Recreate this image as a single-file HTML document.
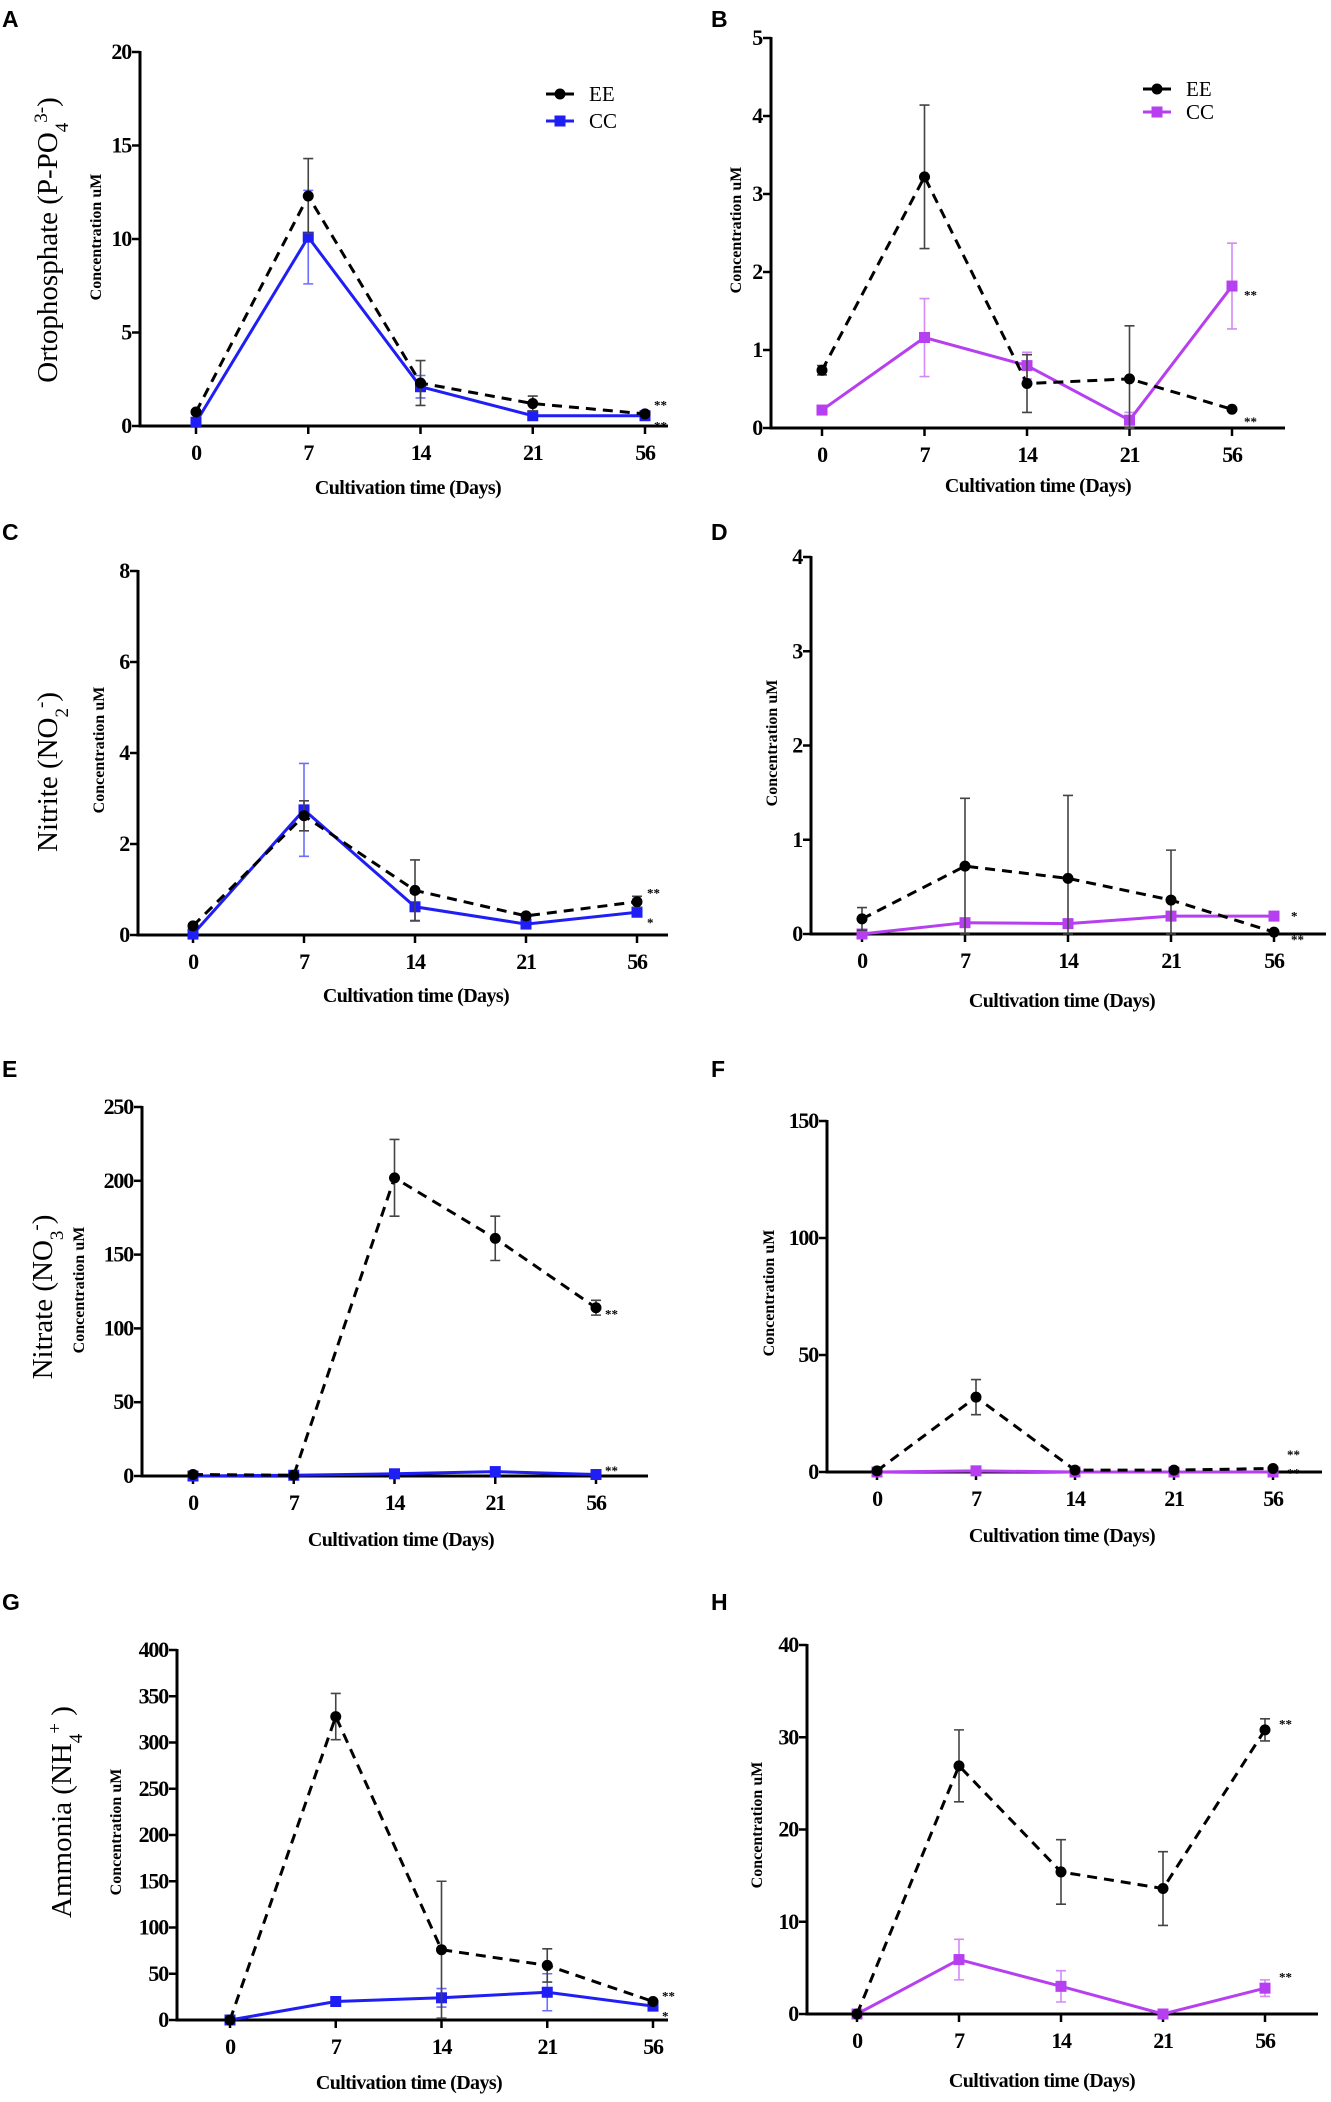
<!DOCTYPE html>
<html><head><meta charset="utf-8">
<style>
html,body{margin:0;padding:0;background:#fff;}
svg{display:block;}
text{font-family:"Liberation Serif",serif;}
.tk{font-weight:bold;font-size:22px;letter-spacing:-1.2px;}
.xt{font-weight:bold;font-size:20px;letter-spacing:-0.6px;}
.yl{font-weight:bold;font-size:16px;}
.big{font-size:29px;}
.pl{font-family:"Liberation Sans",sans-serif;font-weight:bold;font-size:23px;}
.lg{font-size:21px;}
.st{font-size:13px;font-weight:bold;}
</style></head>
<body>
<svg id="fig" width="1331" height="2102" viewBox="0 0 1331 2102">
<rect x="0" y="0" width="1331" height="2102" fill="#fff"/>
</svg>
<script>
const days=['0','7','14','21','56'];
const aTicks=[0,5,10,15,20];
const aEE=[0.75,12.3,2.3,1.2,0.65];
const aEEerr=[0.1,2.0,1.2,0.4,0.1];
const aCC=[0.2,10.1,2.1,0.55,0.55];
const aCCerr=[0.05,2.5,0.6,0.1,0.05];
const bTicks=[0,1,2,3,4,5];
const bEE=[0.74,3.22,0.57,0.63,0.24];
const bEEerr=[0.06,0.92,0.37,0.68,0.02];
const bCC=[0.23,1.16,0.8,0.1,1.82];
const bCCerr=[0.03,0.5,0.17,0.1,0.55];
const cTicks=[0,2,4,6,8];
const cEE=[0.2,2.62,0.98,0.42,0.73];
const cEEerr=[0.05,0.33,0.67,0.05,0.12];
const cCC=[0.02,2.75,0.62,0.24,0.5];
const cCCerr=[0.02,1.02,0.3,0.05,0.05];
const dTicks=[0,1,2,3,4];
const dEE=[0.16,0.72,0.59,0.36,0.02];
const dEEerr=[0.12,0.72,0.88,0.53,0.01];
const dCC=[0,0.12,0.11,0.19,0.19];
const dCCerr=[0,0.02,0.02,0.02,0.02];
const eTicks=[0,50,100,150,200,250];
const eEE=[1,0.5,202,161,114];
const eEEerr=[0.5,0.5,26,15,5];
const eCC=[0,0.5,1.5,3,1];
const eCCerr=[0,0.2,0.5,0.5,0.3];
const fTicks=[0,50,100,150];
const fEE=[0.5,32,0.8,0.8,1.5];
const fEEerr=[0.2,7.5,0.3,0.3,0.3];
const fCC=[0,0.5,0,0,0];
const fCCerr=[0,0.2,0,0,0];
const gTicks=[0,50,100,150,200,250,300,350,400];
const gEE=[0,328,76,59,20];
const gEEerr=[0,25,74,18,2];
const gCC=[0,20,24,30,15];
const gCCerr=[0,3,10,20,2];
const hTicks=[0,10,20,30,40];
const hEE=[0,26.9,15.4,13.6,30.8];
const hEEerr=[0,3.9,3.5,4,1.2];
const hCC=[0,5.9,3.0,0,2.8];
const hCCerr=[0,2.2,1.7,0.2,0.9];

const svg=document.getElementById('fig');
const NS=svg.namespaceURI;
function mk(tag,attrs,parent){const e=document.createElementNS(NS,tag);for(const k in attrs)e.setAttribute(k,attrs[k]);parent.appendChild(e);return e;}

function panel(p){
  const g=mk('g',{},svg);
  
  
  const ymax=p.ticks[p.ticks.length-1];
  const yS=v=>p.y0-(v/ymax)*(p.y0-p.yTop);
  const xS=i=>p.x0+i*p.step;
  const L=mk('text',{x:p.lx,y:p.ly,'class':'pl'},g);L.textContent=p.id;
  
  
  const ya=mk('line',{x1:p.ax,y1:p.yTop-1,x2:p.ax,y2:p.y0+1.5,stroke:'#000','stroke-width':3},g);
  
  
  const xa=mk('line',{x1:p.ax,y1:p.y0,x2:p.xEnd,y2:p.y0,stroke:'#000','stroke-width':3},g);
  
  
  p.ticks.forEach(v=>{
    const t=mk('line',{x1:p.ax-8,y1:yS(v),x2:p.ax,y2:yS(v),stroke:'#000','stroke-width':2.5},g);
    
    
    const tl=mk('text',{x:p.ax-9,y:yS(v)+7,'text-anchor':'end','class':'tk'},g);tl.textContent=v;
    
    
  });
  days.forEach((d,i)=>{
    const t=mk('line',{x1:xS(i),y1:p.y0,x2:xS(i),y2:p.y0+8,stroke:'#000','stroke-width':2.5},g);
    
    
    const tl=mk('text',{x:xS(i),y:p.y0+34,'text-anchor':'middle','class':'tk'},g);tl.textContent=d;
    
    
  });
  const xt=mk('text',{x:p.xtx,y:p.xty,'text-anchor':'middle','class':'xt'},g);xt.textContent='Cultivation time (Days)';
  
  
  const yl=mk('text',{x:0,y:0,'text-anchor':'middle','class':'yl',transform:'translate('+(p.clx+6)+','+p.cly+') rotate(-90)'},g);yl.textContent='Concentration uM';
  
  
  if(p.big){
    const b=mk('text',{x:0,y:0,'text-anchor':'middle','class':'big',transform:'translate('+(p.bx+10)+','+p.by+') rotate(-90)'},g);
    
    
    p.big.forEach(s=>{const ts=mk('tspan',s[1]?{'baseline-shift':s[1],'font-size':'19px'}:{},b);ts.textContent=s[0];});
  }
  function series(vals,errs,color,errColor,dashed,square,nm){
    errs.forEach((e,i)=>{
      if(e<=0.0)return;
      const lo=Math.max(0,vals[i]-e),hi=vals[i]+e;
      const eb=mk('path',{d:'M'+xS(i)+' '+yS(lo)+'V'+yS(hi)+'M'+(xS(i)-5)+' '+yS(hi)+'h10M'+(xS(i)-5)+' '+yS(lo)+'h10',stroke:errColor,'stroke-width':1.6,fill:'none'},g);
      
      
    });
    const pts=vals.map((v,i)=>xS(i)+','+yS(v)).join(' ');
    const ln=mk('polyline',{points:pts,fill:'none',stroke:color,'stroke-width':3,'stroke-dasharray':dashed?'10,7':'none'},g);
    
    
    vals.forEach((v,i)=>{
      let m;
      if(square)m=mk('rect',{x:xS(i)-5.5,y:yS(v)-5.5,width:11,height:11,fill:color},g);
      else m=mk('circle',{cx:xS(i),cy:yS(v),r:5.5,fill:color},g);
      
      
    });
  }
  series(p.cc,p.ccErr,p.ccColor,p.ccErrColor,false,true,'cc');
  series(p.ee,p.eeErr,'#000','#444',true,false,'ee');
  p.stars.forEach(s=>{
    const st=mk('text',{x:xS(4)+p.sdx,y:yS(s[1])+8,'class':'st'},g);st.textContent=s[0];
    
    
  });
  if(p.leg){
    [['EE','#000',false],['CC',p.ccColor,true]].forEach((e,k)=>{
      const y=p.leg[1]+k*p.leg[2];
      const l=mk('line',{x1:p.leg[0]-14,y1:y,x2:p.leg[0]+14,y2:y,stroke:e[1],'stroke-width':3},g);
      
      
      let m;
      if(e[2])m=mk('rect',{x:p.leg[0]-5.5,y:y-5.5,width:11,height:11,fill:e[1]},g);
      else m=mk('circle',{cx:p.leg[0],cy:y,r:5.5,fill:e[1]},g);
      
      
      const t=mk('text',{x:p.leg[0]+29,y:y+7,'class':'lg'},g);t.textContent=e[0];
      
      
    });
  }
}
const BLUE='#1f1ff5',BLUEe='#6d6dff',PUR='#b63ff0',PURe='#d38af5';
panel({id:'A',lx:2,ly:27,ax:140,yTop:52,y0:426,x0:196,step:112.25,xEnd:668,ticks:aTicks,ee:aEE,eeErr:aEEerr,cc:aCC,ccErr:aCCerr,ccColor:BLUE,ccErrColor:BLUEe,xtx:408,xty:494,clx:95,cly:237,bx:47,by:240,big:[['Ortophosphate (P-PO'],['4','sub'],['3-','super'],[')']],stars:[['**',1.3],['**',0.2]],sdx:9,leg:[560,94,27]});
panel({id:'B',lx:711,ly:27,ax:771,yTop:38,y0:428,x0:822,step:102.5,xEnd:1285,ticks:bTicks,ee:bEE,eeErr:bEEerr,cc:bCC,ccErr:bCCerr,ccColor:PUR,ccErrColor:PURe,xtx:1038,xty:492,clx:735,cly:230,stars:[['**',1.75],['**',0.13]],sdx:12,leg:[1157,89,23]});
panel({id:'C',lx:2,ly:540,ax:138,yTop:571,y0:935,x0:193,step:111,xEnd:668,ticks:cTicks,ee:cEE,eeErr:cEEerr,cc:cCC,ccErr:cCCerr,ccColor:BLUE,ccErrColor:BLUEe,xtx:416,xty:1002,clx:98,cly:750,bx:47,by:772,big:[['Nitrite (NO'],['2','sub'],['-','super'],[')']],stars:[['**',1.0],['*',0.35]],sdx:10});
panel({id:'D',lx:711,ly:540,ax:811,yTop:557,y0:934,x0:862,step:103,xEnd:1326,ticks:dTicks,ee:dEE,eeErr:dEEerr,cc:dCC,ccErr:dCCerr,ccColor:PUR,ccErrColor:PURe,xtx:1062,xty:1007,clx:771,cly:743,stars:[['*',0.23],['**',-0.02]],sdx:17});
panel({id:'E',lx:2,ly:1077,ax:142,yTop:1107,y0:1476,x0:193,step:100.75,xEnd:648,ticks:eTicks,ee:eEE,eeErr:eEEerr,cc:eCC,ccErr:eCCerr,ccColor:BLUE,ccErrColor:BLUEe,xtx:401,xty:1546,clx:78,cly:1290,bx:42,by:1297,big:[['Nitrate (NO'],['3','sub'],['-','super'],[')']],stars:[['**',112],['**',6]],sdx:9});
panel({id:'F',lx:711,ly:1077,ax:827,yTop:1121,y0:1472,x0:877,step:99,xEnd:1322,ticks:fTicks,ee:fEE,eeErr:fEEerr,cc:fCC,ccErr:fCCerr,ccColor:PUR,ccErrColor:PURe,xtx:1062,xty:1542,clx:768,cly:1293,stars:[['**',9],['**',1]],sdx:14});
panel({id:'G',lx:2,ly:1610,ax:177,yTop:1650,y0:2020,x0:230,step:105.75,xEnd:668,ticks:gTicks,ee:gEE,eeErr:gEEerr,cc:gCC,ccErr:gCCerr,ccColor:BLUE,ccErrColor:BLUEe,xtx:409,xty:2089,clx:115,cly:1832,bx:61,by:1812,big:[['Ammonia (NH'],['4','sub'],['+','super'],[' )']],stars:[['**',30],['*',8]],sdx:9});
panel({id:'H',lx:711,ly:1610,ax:807,yTop:1645,y0:2014,x0:857,step:102,xEnd:1318,ticks:hTicks,ee:hEE,eeErr:hEEerr,cc:hCC,ccErr:hCCerr,ccColor:PUR,ccErrColor:PURe,xtx:1042,xty:2087,clx:756,cly:1825,stars:[['**',31.8],['**',4.4]],sdx:14});
</script>
</body></html>
